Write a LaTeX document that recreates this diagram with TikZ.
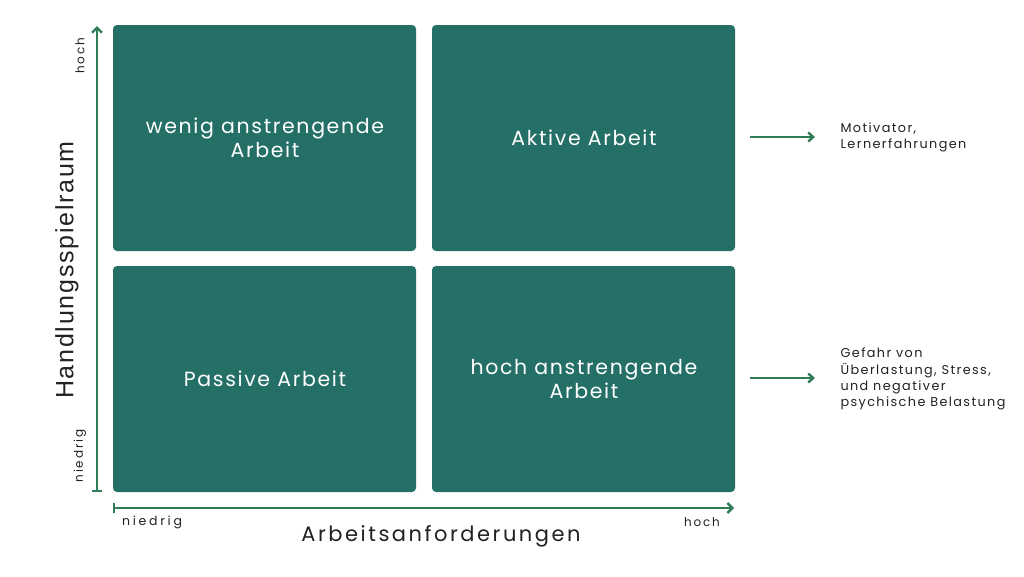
\documentclass[tikz,border=0pt]{standalone}
\usepackage{fontspec}
\setmainfont{Poppins}
\newfontfamily\boxfont[LetterSpace=8]{Poppins}
\newfontfamily\sidefont[LetterSpace=11]{Poppins}
\newfontfamily\titlefont[LetterSpace=12]{Poppins}
\newfontfamily\tickfont[LetterSpace=15]{Poppins}
\newfontfamily\tickwidefont[LetterSpace=22]{Poppins}
\newfontfamily\arialfont[LetterSpace=7]{Liberation Sans}
\usetikzlibrary{arrows.meta}
\definecolor{boxgreen}{HTML}{246F66}
\definecolor{arrowgreen}{HTML}{2E7D57}
\definecolor{txt}{HTML}{222222}
\begin{document}
\begin{tikzpicture}[x=1pt,y=-1pt,
  quad/.style={fill=boxgreen,rounded corners=4pt,draw=none},
  qtext/.style={text=white,font=\boxfont\fontsize{20.5}{24}\selectfont,align=center},
  axis/.style={draw=arrowgreen,line width=2.4pt},
  side/.style={text=txt,font=\sidefont\fontsize{12.8}{16.2}\selectfont,align=left,anchor=west},
  tick/.style={text=txt,font=\tickfont\fontsize{12}{14}\selectfont},
  note/.style={draw=arrowgreen,line width=2.4pt,-{Straight Barb[length=5pt,width=9pt,line width=2.4pt]}}
]
\useasboundingbox (0,0) rectangle (1024,576);
\fill[white] (0,0) rectangle (1024,576);
% quadrants
\fill[quad] (113,25) rectangle (416,251);
\fill[quad] (432,25) rectangle (735,251);
\fill[quad] (113,266) rectangle (416,492);
\fill[quad] (432,266) rectangle (735,492);
\node[qtext] (tl) at (265,138) {wenig anstrengende\\Arbeit};
\node[qtext] (tr) at (584,138) {Aktive Arbeit};
\node[qtext] (bl) at (265,379) {Passive Arbeit};
\node[qtext] (br) at (584,379) {hoch anstrengende\\Arbeit};
% axes
\coordinate (ya) at (97,492);
\coordinate (yb) at (97,26);
\coordinate (xa) at (113,508);
\coordinate (xb) at (734,508);
\draw[axis,{Bar[width=10pt,line width=2.4pt]}-{Straight Barb[length=5pt,width=10pt,line width=2.4pt]}] (ya) -- (yb);
\draw[axis,{Bar[width=10pt,line width=2.4pt]}-{Straight Barb[length=5pt,width=10pt,line width=2.4pt]}] (xa) -- (xb);
\node[tick,rotate=90] (yhoch) at (80,56) {hoch};
\node[tick,rotate=90] (yniedrig) at (80,456) {niedrig};
\node[tick,font=\tickwidefont\fontsize{12.5}{14}\selectfont] (xniedrig) at (152,522) {niedrig};
\node[tick] (xhoch) at (702,522) {hoch};
\node[text=txt,font=\titlefont\fontsize{21}{24}\selectfont] (xlabel) at (441,536) {Arbeitsanforderungen};
\node[text=txt,font=\arialfont\fontsize{25}{26}\selectfont,rotate=90] (ylabel) at (67,270) {Handlungsspielraum};
% notes
\coordinate (n1a) at (750,137);
\coordinate (n1b) at (815,137);
\coordinate (n2a) at (750,378);
\coordinate (n2b) at (815,378);
\draw[note] (n1a) -- (n1b);
\draw[note] (n2a) -- (n2b);
\node[side] (t1) at (837,137) {Motivator,\\Lernerfahrungen};
\node[side] (t2) at (837,379) {Gefahr von\\Überlastung, Stress,\\und negativer\\psychische Belastung};
\end{tikzpicture}
\end{document}
